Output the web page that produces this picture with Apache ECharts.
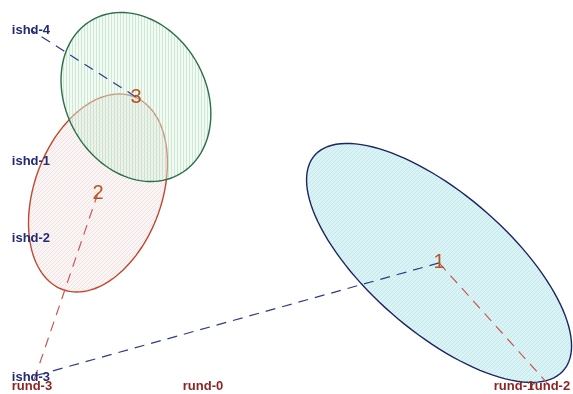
<!DOCTYPE html>
<html>
<head>
<meta charset="utf-8">
<script src="https://cdn.jsdelivr.net/npm/echarts@6/dist/echarts.min.js"></script>
<style>
  html, body { margin: 0; padding: 0; background: #fff; }
  #chart { width: 573px; height: 394px; }
</style>
</head>
<body>
<div id="chart"></div>
<script>
// Class scores: centre and spread (radii + correlation) of each group
const groups    = ['1', '2', '3'];
const groupX    = [1.565, -0.816, -0.551];
const groupY    = [-0.585, -0.097, 0.573];
const groupRadX = [0.925, 0.485, 0.523];
const groupRadY = [0.834, 0.691, 0.590];
const groupRho  = [-0.695, 0.305, -0.200];

// Category scores of the two factors
const ishdLabels = ['ishd-1', 'ishd-2', 'ishd-3', 'ishd-4'];
const ishdX      = [-1.284, -1.284, -1.284, -1.284];
const ishdY      = [0.126, -0.411, -1.381, 1.041];

const rundLabels = ['rund-0', 'rund-1', 'rund-2', 'rund-3'];
const rundX      = [-0.083, 2.088, 2.339, -1.277];
const rundY      = [-1.445, -1.445, -1.445, -1.445];

// Group -> category links drawn as dashed segments
const ishdLinks = [[0, 2], [2, 3]];   // group index, ishd index
const rundLinks = [[0, 2], [1, 3]];   // group index, rund index

// Hatched fills for the ellipses
function hatch(bg, line, kind) {
  const c = document.createElement('canvas');
  const s = kind === 'v' ? 3 : 4;
  c.width = s; c.height = s;
  const g = c.getContext('2d');
  g.fillStyle = bg; g.fillRect(0, 0, s, s);
  g.strokeStyle = line; g.lineWidth = 0.8;
  g.beginPath();
  if (kind === 'v') {
    g.moveTo(0.5, 0); g.lineTo(0.5, s);
  } else {
    g.moveTo(-1, s + 1); g.lineTo(s + 1, -1);
    g.moveTo(-1, 1); g.lineTo(1, -1);
    g.moveTo(s - 1, s + 1); g.lineTo(s + 1, s - 1);
  }
  g.stroke();
  return { image: c, repeat: 'repeat' };
}

const ellipseStroke = ['#1d2462', '#c2462c', '#2c6e48'];
const ellipseFill = [
  hatch('rgba(216,243,244,0.95)', 'rgba(180,222,228,0.7)', 'd'),
  hatch('rgba(246,238,236,0.6)', 'rgba(215,198,194,0.45)', 'd'),
  hatch('rgba(224,245,228,0.45)', 'rgba(160,210,170,0.55)', 'v')
];

const groupData = groups.map((g, i) => [groupX[i], groupY[i], groupRadX[i], groupRadY[i], groupRho[i], i]);

function ellipseItem(params, api) {
  const cx = api.value(0), cy = api.value(1);
  const rx = api.value(2), ry = api.value(3), rho = api.value(4);
  const idx = api.value(5);
  const pts = [];
  const n = 120;
  for (let k = 0; k < n; k++) {
    const t = 2 * Math.PI * k / n;
    const dx = rx * Math.cos(t);
    const dy = rho * ry * Math.cos(t) + ry * Math.sqrt(1 - rho * rho) * Math.sin(t);
    pts.push(api.coord([cx + dx, cy + dy]));
  }
  return {
    type: 'polygon',
    shape: { points: pts },
    style: { fill: ellipseFill[idx], stroke: ellipseStroke[idx], lineWidth: 1.4 }
  };
}

function textSeries(labels, xs, ys, color, font) {
  return {
    type: 'custom',
    coordinateSystem: 'cartesian2d',
    silent: true,
    z: 10,
    data: labels.map((l, i) => [xs[i], ys[i], i]),
    renderItem: (params, api) => {
      const p = api.coord([api.value(0), api.value(1)]);
      return {
        type: 'text',
        x: p[0], y: p[1],
        style: { text: labels[api.value(2)], fill: color, font: font, align: 'center', verticalAlign: 'middle' }
      };
    }
  };
}

const blueLinks = ishdLinks.map(([g, k]) => ({ coords: [[groupX[g], groupY[g]], [ishdX[k], ishdY[k]]] }));
const redLinks  = rundLinks.map(([g, k]) => ({ coords: [[groupX[g], groupY[g]], [rundX[k], rundY[k]]] }));

const chart = echarts.init(document.getElementById('chart'), null, { renderer: 'canvas' });
chart.setOption({
  animation: false,
  backgroundColor: '#ffffff',
  grid: { left: 0, right: 0, top: 0, bottom: 0 },
  xAxis: { type: 'value', min: -1.5, max: 2.5, show: false },
  yAxis: { type: 'value', min: -1.5, max: 1.25, show: false },
  series: [
    {
      type: 'custom',
      coordinateSystem: 'cartesian2d',
      silent: true,
      z: 2,
      data: groupData,
      renderItem: ellipseItem
    },
    {
      type: 'lines',
      coordinateSystem: 'cartesian2d',
      silent: true,
      z: 5,
      lineStyle: { color: '#2e3b86', width: 1.2, type: [10, 7], opacity: 1 },
      data: blueLinks
    },
    {
      type: 'lines',
      coordinateSystem: 'cartesian2d',
      silent: true,
      z: 5,
      lineStyle: { color: '#c65a55', width: 1.2, type: [10, 7], opacity: 1 },
      data: redLinks
    },
    textSeries(ishdLabels, ishdX, ishdY, '#232a78', 'bold 13px "Liberation Sans", Arial, sans-serif'),
    textSeries(rundLabels, rundX, rundY, '#8c2424', 'bold 13px "Liberation Sans", Arial, sans-serif'),
    textSeries(groups, groupX, groupY, '#b8561f', '20px "Liberation Sans", Arial, sans-serif')
  ]
});
</script>
</body>
</html>
